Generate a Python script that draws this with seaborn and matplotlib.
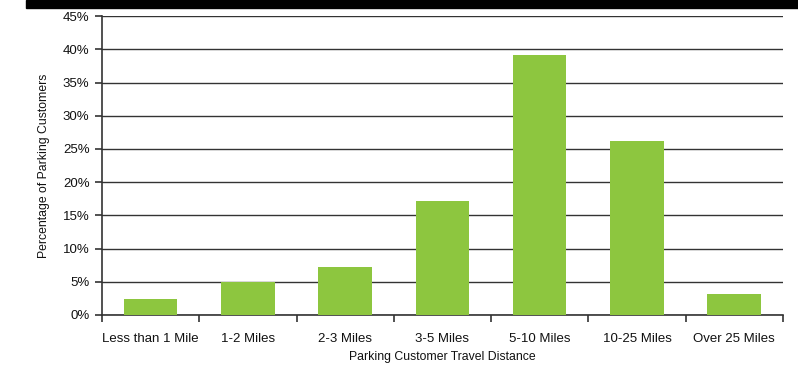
import matplotlib
matplotlib.use("Agg")
import matplotlib.pyplot as plt
import matplotlib.patches as mpatches
from matplotlib.ticker import PercentFormatter, FixedLocator
import seaborn as sns
import pandas as pd

categories = ["Less than 1 Mile", "1-2 Miles", "2-3 Miles", "3-5 Miles",
              "5-10 Miles", "10-25 Miles", "Over 25 Miles"]
percentages = [2.4, 5.0, 7.2, 17.1, 39.2, 26.2, 3.1]
y_ticks = [0, 5, 10, 15, 20, 25, 30, 35, 40, 45]

df = pd.DataFrame({"distance": categories, "pct": percentages})

sns.set_theme(style="white")
plt.rcParams["font.family"] = ["Liberation Sans", "DejaVu Sans"]

fig = plt.figure(figsize=(7.98, 3.67), dpi=100)
ax = fig.add_axes([0.1278, 0.1417, 0.981 - 0.1278, 0.956 - 0.1417])

sns.barplot(data=df, x="distance", y="pct", color="#8DC63F", width=0.55,
            saturation=1, linewidth=0, edgecolor="none", ax=ax, zorder=3)

ax.set_ylim(0, 45)
ax.set_xlim(-0.5, len(categories) - 0.5)
ax.yaxis.set_major_locator(FixedLocator(y_ticks))
ax.yaxis.set_major_formatter(PercentFormatter(decimals=0))
for v in y_ticks:
    ax.axhline(v, color="#333333", linewidth=1.0, zorder=1)

for s in ["top", "right"]:
    ax.spines[s].set_visible(False)
for s in ["left", "bottom"]:
    ax.spines[s].set_color("#333333")
    ax.spines[s].set_linewidth(1.2)

ax.set_xticks(range(len(categories)))
ax.set_xticklabels(categories)
ax.tick_params(axis="x", which="major", length=0, pad=13, labelsize=9.5, colors="#111111")
ax.set_xticks([i - 0.5 for i in range(len(categories) + 1)], minor=True)
ax.tick_params(axis="x", which="minor", length=5, width=1.2, color="#333333", direction="out", bottom=True)
ax.tick_params(axis="y", length=5, width=1.2, color="#333333", direction="out", left=True,
               labelsize=9.5, colors="#111111", pad=4)

ax.set_xlabel("Parking Customer Travel Distance", fontsize=8.8, color="#111111", labelpad=4)
ax.set_ylabel("Percentage of Parking Customers", fontsize=8.8, color="#111111", labelpad=9)

fig.patches.append(mpatches.Rectangle((26 / 798, (367 - 8) / 367), 1 - 26 / 798, 8 / 367,
                                      transform=fig.transFigure, color="black", zorder=10))

fig.savefig("out.png", dpi=100)
